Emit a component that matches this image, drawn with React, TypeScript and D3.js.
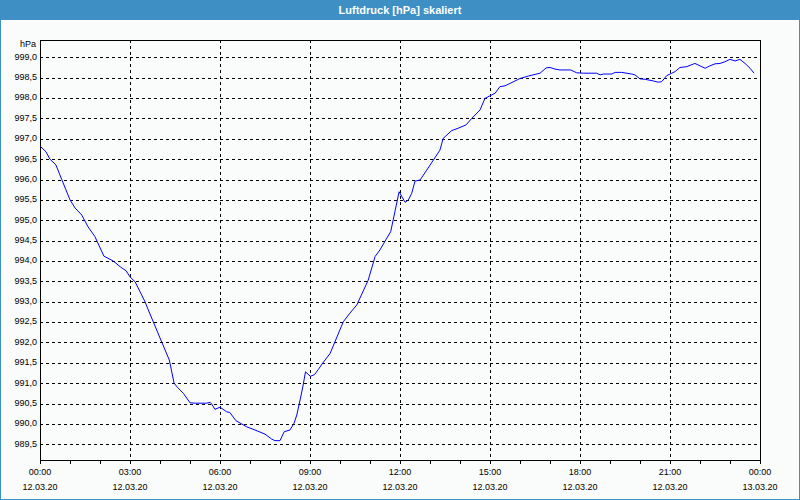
import React from "react";
import * as d3 from "d3";

const title = "Luftdruck [hPa] skaliert";
const unitLabel = "hPa";

// hours after 00:00 on 12.03.20
const hours = [
  0.0, 0.2, 0.33, 0.53, 0.72, 1.0, 1.17, 1.39, 1.6, 1.83, 2.13, 2.44, 2.69, 2.87, 3.0, 3.17, 3.5, 3.61, 4.0,
  4.31, 4.47, 4.58, 4.78, 5.0, 5.17, 5.56, 5.67, 5.72, 5.83, 6.0, 6.22, 6.33, 6.53, 6.89, 7.17, 7.5, 7.72,
  7.83, 8.0, 8.14, 8.33, 8.47, 8.56, 8.67, 8.76, 8.85, 9.01, 9.15, 9.28, 9.42, 9.67, 10.11, 10.33, 10.56,
  10.94, 11.17, 11.33, 11.56, 11.69, 11.83, 11.97, 12.17, 12.28, 12.39, 12.5, 12.67, 12.89, 13.07, 13.33,
  13.44, 13.72, 13.94, 14.2, 14.39, 14.67, 14.83, 15.17, 15.33, 15.5, 15.67, 16.0, 16.28, 16.5, 16.67,
  16.87, 17.0, 17.17, 17.33, 17.69, 17.89, 18.11, 18.56, 18.67, 18.78, 19.06, 19.17, 19.39, 19.72, 19.83,
  20.0, 20.17, 20.44, 20.61, 20.72, 20.89, 21.06, 21.17, 21.33, 21.56, 21.83, 22.0, 22.17, 22.33, 22.5,
  22.67, 22.83, 23.0, 23.17, 23.33, 23.5, 23.67, 23.8,
];

const pressure = [
  996.82, 996.68, 996.5, 996.36, 996.01, 995.5, 995.3, 995.13, 994.84, 994.6, 994.12, 994.0, 993.85, 993.76,
  993.61, 993.49, 993.0, 992.8, 992.11, 991.57, 991.0, 990.9, 990.75, 990.52, 990.51, 990.51, 990.53,
  990.49, 990.36, 990.41, 990.3, 990.28, 990.08, 989.93, 989.85, 989.75, 989.63, 989.59, 989.59, 989.81,
  989.85, 990.02, 990.22, 990.59, 990.91, 991.28, 991.17, 991.21, 991.34, 991.49, 991.73, 992.51, 992.72,
  992.92, 993.53, 994.11, 994.27, 994.56, 994.72, 995.21, 995.7, 995.44, 995.5, 995.66, 995.96, 995.99,
  996.23, 996.43, 996.72, 997.01, 997.2, 997.26, 997.34, 997.5, 997.71, 997.99, 998.12, 998.28, 998.3,
  998.36, 998.48, 998.54, 998.58, 998.61, 998.74, 998.75, 998.71, 998.69, 998.69, 998.62, 998.61, 998.61,
  998.57, 998.59, 998.59, 998.63, 998.63, 998.59, 998.57, 998.47, 998.46, 998.42, 998.39, 998.4, 998.55,
  998.61, 998.65, 998.75, 998.77, 998.85, 998.79, 998.73, 998.79, 998.84, 998.85, 998.89, 998.95, 998.91,
  998.95, 998.85, 998.73, 998.61,
];

const yTicks = [
  989.5, 990.0, 990.5, 991.0, 991.5, 992.0, 992.5, 993.0, 993.5, 994.0, 994.5, 995.0, 995.5, 996.0, 996.5,
  997.0, 997.5, 998.0, 998.5, 999.0,
];
const xTickHours = [0, 3, 6, 9, 12, 15, 18, 21, 24];
const xTimeLabels = ["00:00", "03:00", "06:00", "09:00", "12:00", "15:00", "18:00", "21:00", "00:00"];
const xDateLabels = ["12.03.20", "12.03.20", "12.03.20", "12.03.20", "12.03.20", "12.03.20", "12.03.20", "12.03.20", "13.03.20"];
const minorTickHours = d3.range(0, 25, 1);

const W = 800;
const H = 500;
const left = 40;
const right = 760;
const top = 40;
const bottom = 460;
const blue = "#3d8fc4";
const font = "'Liberation Sans', Arial, sans-serif";

export default function App() {
  const x = d3.scaleLinear().domain([0, 24]).range([left, right]);
  const y = d3.scaleLinear().domain([989.115, 999.425]).range([bottom, top]);
  const px = (v: number) => Math.round(v) + 0.5;

  const data = hours.map((h, i) => [h, pressure[i]] as [number, number]);
  const line = d3
    .line<[number, number]>()
    .x((d) => x(d[0]))
    .y((d) => y(d[1]));

  const fmt = (v: number) => v.toFixed(1).replace(".", ",");

  return (
    <svg
      width={W}
      height={H}
      style={{ position: "absolute", left: 0, top: 0, display: "block" }}
      fontFamily={font}
    >
      <rect x={0} y={0} width={W} height={H} fill="#fafcfc" />
      <rect x={0} y={0} width={W} height={20} fill={blue} />
      <rect x={0.5} y={0.5} width={W - 1} height={H - 1} fill="none" stroke={blue} strokeWidth={1} />
      <text x={400} y={14} textAnchor="middle" fill="#ffffff" fontWeight="bold" fontSize={11}>
        {title}
      </text>

      <g shapeRendering="crispEdges">
        {yTicks.map((t) => (
          <line
            key={"hy" + t}
            x1={left}
            x2={right}
            y1={px(y(t))}
            y2={px(y(t))}
            stroke="#000"
            strokeDasharray="3,3"
          />
        ))}
        {xTickHours
          .filter((h) => h > 0 && h < 24)
          .map((h) => (
            <line
              key={"vx" + h}
              x1={px(x(h))}
              x2={px(x(h))}
              y1={top}
              y2={bottom}
              stroke="#000"
              strokeDasharray="3,3"
            />
          ))}
        {minorTickHours.map((h) => (
          <line key={"mt" + h} x1={px(x(h))} x2={px(x(h))} y1={bottom} y2={bottom + 4} stroke="#000" />
        ))}
        <rect
          x={px(left)}
          y={px(top)}
          width={Math.round(right) - Math.round(left)}
          height={Math.round(bottom) - Math.round(top)}
          fill="none"
          stroke="#000"
        />
      </g>

      <path d={line(data) || ""} fill="none" stroke="#0000ff" strokeWidth={1} />

      <g fontSize={9} fill="#000">
        <text x={36} y={45} textAnchor="end" dominantBaseline="middle">
          {unitLabel}
        </text>
        {yTicks.map((t) => (
          <text key={"yl" + t} x={37} y={y(t)} textAnchor="end" dominantBaseline="middle">
            {fmt(t)}
          </text>
        ))}
        {xTickHours.map((h, i) => (
          <g key={"xl" + i}>
            <text x={x(h)} y={473} textAnchor="middle" dominantBaseline="middle">
              {xTimeLabels[i]}
            </text>
            <text x={x(h)} y={488} textAnchor="middle" dominantBaseline="middle">
              {xDateLabels[i]}
            </text>
          </g>
        ))}
      </g>
    </svg>
  );
}
